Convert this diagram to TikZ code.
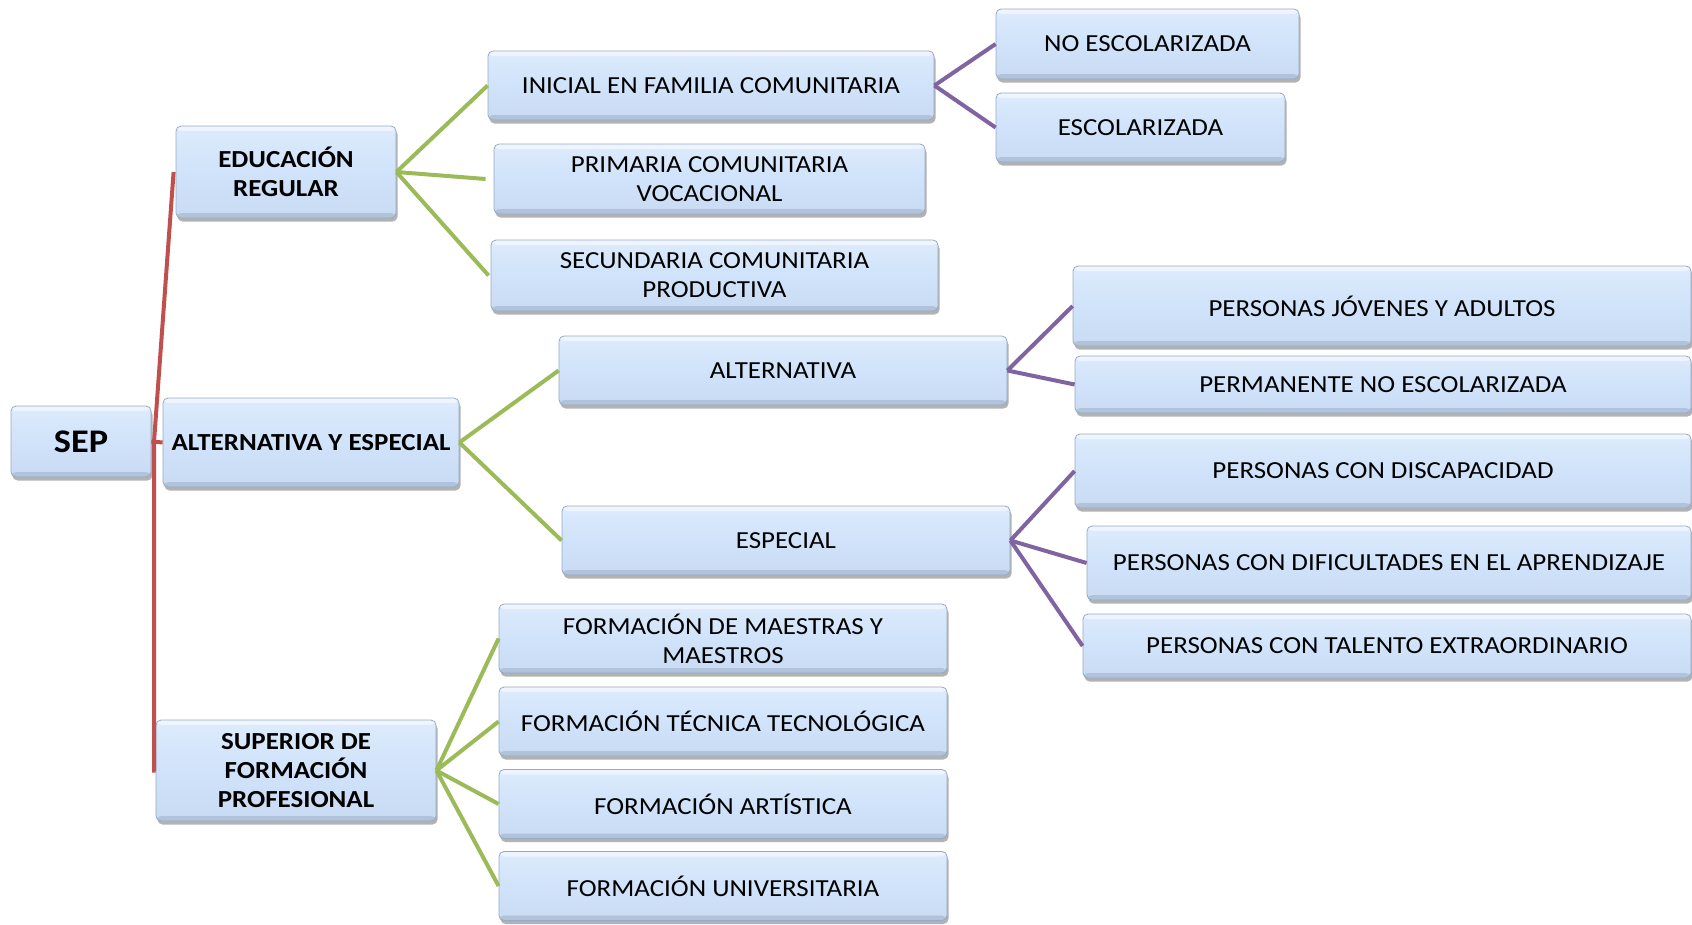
\documentclass[tikz,border=0pt]{standalone}
\usepackage{fontspec}
\setmainfont{Carlito}[FakeStretch=1.1]
\usetikzlibrary{shadows}
\definecolor{boxfill}{HTML}{D0E3FA}
\definecolor{boxtop}{HTML}{DDEBFC}
\definecolor{boxbot}{HTML}{C8DBF2}
\definecolor{boxline}{HTML}{97A9C2}
\definecolor{boxdark}{HTML}{9FB0C8}
\definecolor{gline}{HTML}{9BBB59}
\definecolor{pline}{HTML}{8064A2}
\definecolor{rline}{HTML}{C0504D}
\tikzset{
  bx/.style={draw=boxline, line width=0.8pt, rounded corners=5pt,
    top color=boxtop, bottom color=boxbot, middle color=boxfill,
    inner sep=0pt, align=center,
    font=\fontsize{24.5}{29}\selectfont,
    drop shadow={shadow xshift=1.5pt, shadow yshift=-3.5pt, fill=black, opacity=0.3},
    path picture={
      \fill[white, opacity=0.5] (path picture bounding box.north west) rectangle ([yshift=-5pt]path picture bounding box.north east);
      \fill[boxdark, opacity=0.55] ([yshift=5pt]path picture bounding box.south west) rectangle (path picture bounding box.south east);
    }},
  sz/.style 2 args={minimum width=#1pt, minimum height=#2pt},
  bb/.style={font=\fontsize{24.5}{29}\selectfont\bfseries},
  gl/.style={draw=gline, line width=4pt},
  pl/.style={draw=pline, line width=4pt},
  rl/.style={draw=rline, line width=4pt}
}
\begin{document}
\begin{tikzpicture}[x=1pt,y=-1pt]
\useasboundingbox (0,0) rectangle (1692,924);
% level 0/1
\node[bx, sz={140}{71}, font=\fontsize{33}{38}\selectfont\bfseries] (sep) at (81,441.5) {SEP};
\node[bx, sz={220}{92}, bb] (edu) at (286,172) {EDUCACIÓN\\REGULAR};
\node[bx, sz={296}{89}, bb] (altesp) at (311,442.5) {ALTERNATIVA Y ESPECIAL};
\node[bx, sz={280}{101}, bb] (sup) at (296,770.5) {SUPERIOR DE\\FORMACIÓN\\PROFESIONAL};
% level 2
\node[bx, sz={446}{69}] (ini) at (711,85.5) {INICIAL EN FAMILIA COMUNITARIA};
\node[bx, sz={431}{70}] (pri) at (709.5,179) {PRIMARIA COMUNITARIA\\VOCACIONAL};
\node[bx, sz={447}{71}] (sec) at (714.5,275.5) {SECUNDARIA COMUNITARIA\\PRODUCTIVA};
\node[bx, sz={448}{69}] (alt) at (783,370.5) {ALTERNATIVA};
\node[bx, sz={448}{69}] (esp) at (786,540.5) {ESPECIAL};
\node[bx, sz={448}{69}] (fmae) at (723,638.5) {FORMACIÓN DE MAESTRAS Y\\MAESTROS};
\node[bx, sz={448}{69}] (ftec) at (723,721.5) {FORMACIÓN TÉCNICA TECNOLÓGICA};
\node[bx, sz={448}{69}] (fart) at (723,804) {FORMACIÓN ARTÍSTICA};
\node[bx, sz={448}{69}] (funi) at (723,886) {FORMACIÓN UNIVERSITARIA};
% level 3
\node[bx, sz={303}{70}] (noesc) at (1147.5,44) {NO ESCOLARIZADA};
\node[bx, sz={289}{69}] (escol) at (1140.5,127.5) {ESCOLARIZADA};
\node[bx, sz={618}{80}] (pja) at (1382,306) {PERSONAS JÓVENES Y ADULTOS};
\node[bx, sz={616}{57}] (perm) at (1383,384.5) {PERMANENTE NO ESCOLARIZADA};
\node[bx, sz={616}{74}] (disc) at (1383,471) {PERSONAS CON DISCAPACIDAD};
\node[bx, sz={604}{74}] (dific) at (1389,563) {PERSONAS CON DIFICULTADES EN EL APRENDIZAJE};
\node[bx, sz={608}{64}] (tal) at (1387,646) {PERSONAS CON TALENTO EXTRAORDINARIO};
% red connectors
\coordinate (rj) at (154,442);
\draw[rl] ([xshift=-2pt]edu.west) -- (rj) -- (rj |- sup.west) -- (sup.west);
\draw[rl] (sep.east) -- (altesp.west);
% green connectors
\draw[gl] (edu.east) -- (ini.west);
\draw[gl] (edu.east) -- ([xshift=-8pt]pri.west);
\draw[gl] (edu.east) -- ([xshift=-2pt]sec.west);
\draw[gl] (altesp.east) -- (alt.west);
\draw[gl] (altesp.east) -- (esp.west);
\draw[gl] (sup.east) -- (fmae.west);
\draw[gl] (sup.east) -- (ftec.west);
\draw[gl] (sup.east) -- (fart.west);
\draw[gl] (sup.east) -- (funi.west);
% purple connectors
\draw[pl] (ini.east) -- (noesc.west);
\draw[pl] (ini.east) -- (escol.west);
\draw[pl] (alt.east) -- (pja.west);
\draw[pl] (alt.east) -- (perm.west);
\draw[pl] (esp.east) -- (disc.west);
\draw[pl] (esp.east) -- (dific.west);
\draw[pl] (esp.east) -- (tal.west);
\end{tikzpicture}
\end{document}
